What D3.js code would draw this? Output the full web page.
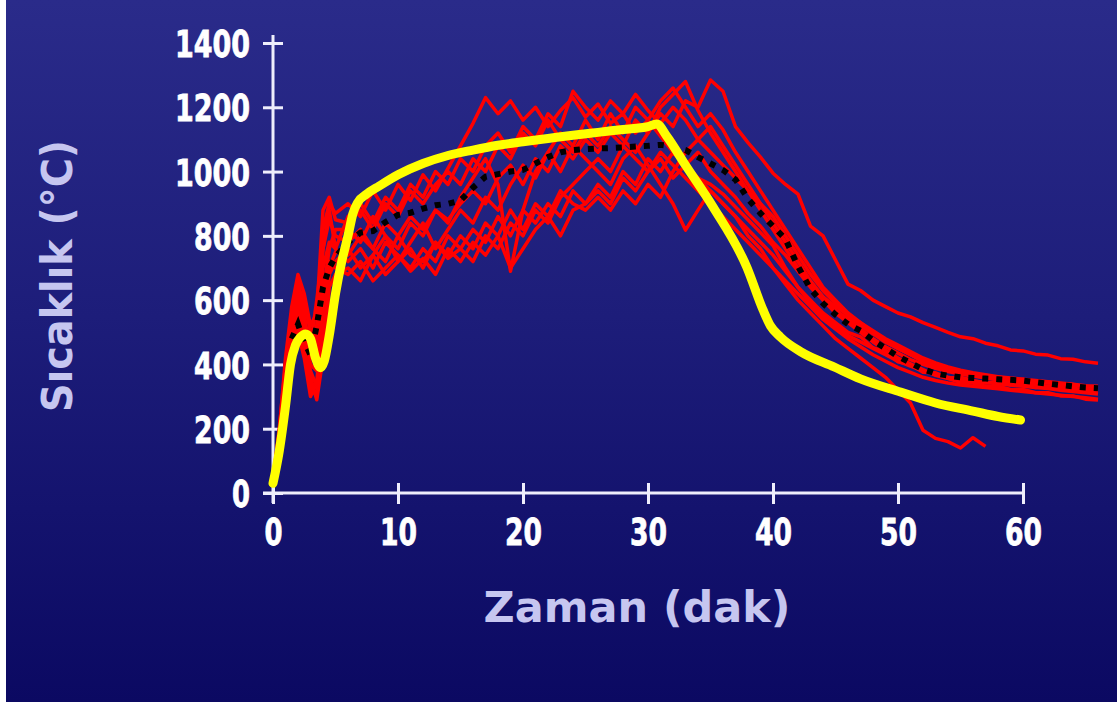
<!DOCTYPE html>
<html>
<head>
<meta charset="utf-8">
<script src="https://cdn.jsdelivr.net/npm/d3@7"></script>
<style>
  body { margin: 0; background: #fff; }
  svg { display: block; }
</style>
</head>
<body>
<svg id="fire-chart"></svg>
<script>
const xTicks = [0, 10, 20, 30, 40, 50, 60]
const yTicks = [0, 200, 400, 600, 800, 1000, 1200, 1400]

// measured runs share one time grid (minutes)
const redTime = [0, 0.5, 1, 1.5, 2, 2.5, 3, 3.5, 4, 4.5, 5,
  6, 7, 8, 9, 10, 11, 12, 13, 14, 15, 16, 17, 18, 19, 20, 21, 22, 23, 24, 25,
  26, 27, 28, 29, 30, 31, 32, 33, 34, 35, 36, 37, 38, 39, 40, 41, 42, 43, 44, 45,
  46, 47, 48, 49, 50, 51, 52, 53, 54, 55, 56, 57, 58, 59, 60, 61, 62, 63, 64, 65, 66]

const redRun1 = [20, 150, 330, 520, 660, 560, 420, 520, 820, 900, 870,
  900, 860, 940, 880, 960, 910, 990, 940, 1010, 1080,
  1150, 1230, 1180, 1220, 1160, 1200, 1140, 1190, 1230, 1170,
  1210, 1150, 1180, 1120, 1160, 1110, 1060, 1020, 980, 960,
  930, 890, 850, 810, 770, 700, 640, 600, 560, 530,
  500, 486, 452, 438, 408, 400, 376, 374, 358, 360,
  350, 342, 346, 336, 338, 328, 332, 322, 326, 316, 318]
const redRun2 = [30, 170, 360, 480, 600, 530, 460, 600, 760, 850, 800,
  780, 820, 760, 840, 800, 860, 820, 880, 850, 900,
  940, 900, 980, 1020, 960, 1040, 1000, 1080, 1040, 1100,
  1060, 1120, 1080, 1160, 1120, 1180, 1140, 1220, 1200, 1285,
  1250, 1140, 1090, 1045, 995, 960, 930, 830, 800, 725,
  650, 630, 600, 580, 560, 548, 530, 515, 500, 486,
  480, 466, 458, 445, 442, 432, 429, 418, 416, 408, 404]
const redRun3 = [40, 200, 400, 560, 640, 600, 500, 450, 700, 780, 760,
  720, 760, 700, 780, 740, 700, 760, 720, 800, 760,
  820, 780, 860, 800, 880, 840, 900, 860, 940, 900,
  960, 920, 1000, 960, 1040, 1000, 1060, 1020, 980, 940,
  900, 860, 800, 760, 700, 650, 600, 560, 520, 480,
  450, 420, 390, 360, 320, 280, 195, 170, 160, 140,
  172, 145, null, null, null, null, null, null, null, null, null]
const redRun4 = [25, 120, 280, 420, 520, 470, 380, 330, 560, 720, 700,
  680, 720, 660, 700, 740, 690, 730, 680, 760, 720,
  780, 740, 800, 700, 760, 820, 860, 800, 880, 900,
  940, 900, 980, 940, 1000, 1040, 980, 1020, 1060, 1000,
  960, 920, 870, 830, 780, 740, 690, 640, 600, 560,
  530, 500, 470, 444, 420, 402, 384, 366, 356, 344,
  342, 332, 332, 322, 322, 312, 312, 302, 302, 292, 289]
const redRun5 = [35, 180, 380, 500, 580, 500, 400, 380, 620, 760, 820,
  820, 780, 860, 800, 760, 840, 800, 880, 840, 920,
  980, 1040, 960, 690, 880, 1000, 1060, 1120, 1080, 1160,
  1100, 1180, 1120, 1200, 1160, 1220, 1260, 1200, 1140, 1180,
  1130, 1060, 1000, 940, 880, 820, 760, 700, 640, 600,
  560, 530, 500, 470, 450, 430, 410, 395, 385, 375,
  370, 362, 362, 352, 354, 344, 346, 336, 338, 330, 330]
const redRun6 = [20, 140, 300, 450, 540, 440, 330, 300, 480, 680, 720,
  760, 700, 740, 800, 720, 780, 840, 760, 820, 880,
  840, 920, 880, 960, 1020, 980, 1060, 1000, 1080, 1040,
  1000, 960, 1040, 1080, 1020, 960, 900, 818, 880, 940,
  900, 860, 820, 780, 740, 690, 640, 590, 550, 520,
  490, 470, 450, 430, 410, 395, 380, 370, 360, 352,
  348, 344, 340, 336, 332, 328, 325, 320, 316, 312, 308]
const redRun7 = [30, 160, 340, 470, 620, 520, 440, 500, 760, 880, 760,
  860, 900, 840, 920, 880, 960, 920, 1000, 960, 1040,
  1000, 1080, 1120, 1060, 1140, 1100, 1180, 1140, 1250, 1200,
  1160, 1220, 1180, 1240, 1190, 1150, 1200, 1160, 1100, 1060,
  1020, 980, 940, 900, 860, 800, 740, 680, 630, 590,
  550, 520, 495, 470, 450, 430, 410, 395, 382, 372,
  366, 360, 356, 352, 348, 345, 342, 338, 335, 332, 328]
const redRun8 = [25, 130, 290, 430, 560, 480, 360, 290, 420, 640, 680,
  700, 660, 740, 680, 720, 760, 700, 780, 740, 800,
  760, 840, 800, 880, 820, 900, 860, 940, 900, 880,
  920, 880, 940, 900, 960, 920, 1000, 1060, 1100, 1140,
  1080, 1020, 960, 900, 840, 780, 720, 660, 610, 570,
  540, 510, 480, 455, 435, 415, 400, 388, 378, 370,
  364, 358, 352, 346, 340, 336, 332, 328, 325, 322, 320]
const redRun9 = [40, 190, 420, 580, 680, 620, 520, 560, 880, 920, 850,
  840, 880, 820, 900, 860, 940, 900, 960, 1000, 960,
  1040, 1000, 1080, 1040, 1120, 1080, 1160, 1100, 1060, 1120,
  1080, 1140, 1100, 1060, 1120, 1200, 1240, 1280, 1190, 1120,
  1060, 1000, 940, 880, 820, 760, 700, 650, 610, 580,
  555, 530, 505, 480, 460, 440, 420, 405, 392, 382,
  374, 368, 362, 358, 354, 350, 346, 342, 338, 334, 332]
const redRun10 = [30, 150, 320, 460, 500, 420, 300, 340, 600, 700, 750,
  740, 800, 760, 720, 800, 740, 720, 780, 730, 760,
  720, 800, 760, 840, 800, 880, 840, 920, 960, 1000,
  1040, 1000, 1080, 1040, 1000, 1060, 1020, 980, 940, 900,
  860, 820, 780, 740, 700, 660, 620, 580, 540, 510,
  480, 455, 430, 410, 390, 375, 360, 350, 342, 336,
  332, 328, 324, 320, 316, 312, 308, 304, 300, 296, 292]

const meanTime = [1.5, 2, 2.5, 3, 3.5, 4, 4.5, 5,
  6, 7, 8, 9, 10, 11, 12, 13, 14, 15, 16, 17, 18, 19, 20, 21, 22, 23, 24, 25,
  26, 27, 28, 29, 30, 31, 32, 33, 34, 35, 36, 37, 38, 39, 40, 41, 42, 43, 44, 45,
  46, 47, 48, 49, 50, 51, 52, 53, 54, 55, 56, 57, 58, 59, 60, 61, 62, 63, 64, 65, 66]
const meanTemp = [480, 525, 470, 430, 520, 640, 700, 735,
  780, 810, 815, 843, 865, 872, 885, 895, 900, 910,
  950, 984, 992, 1000, 1005, 1025, 1045, 1060, 1067, 1070,
  1072, 1073, 1075, 1078, 1080, 1083, 1078, 1067, 1045, 1025,
  1005, 975, 915, 870, 830, 790, 705, 635, 590, 555,
  525, 505, 475, 450, 425, 405, 385, 372, 365, 360,
  358, 356, 354, 352, 350, 345, 340, 336, 332, 328, 326]

const modelTime = [0, 0.5, 1, 1.4, 1.8, 2.2, 2.6, 3, 3.4, 3.8, 4.1, 4.5, 5, 5.5, 6, 6.4, 6.8, 7.5, 8.5, 10,
  12, 14, 16, 18, 20, 22, 24, 26, 28, 30, 30.7, 31.5, 33, 35.2, 37.9, 39.2, 39.8, 40.6, 42.2, 44.9, 47,
  50.2, 53, 56, 58, 59.8]
const modelTemp = [30, 130, 270, 400, 460, 485, 495, 480, 420, 390, 410, 490, 620, 720, 800, 870, 905, 930, 955, 990,
  1025, 1050, 1067, 1082, 1093, 1103, 1113, 1122, 1131, 1140, 1148, 1110, 1020, 890, 703, 570, 520, 485, 440, 392, 355,
  314, 280, 255, 238, 227]

const xTitle = "Zaman (dak)"
const yTitle = "Sıcaklık (°C)"

const width = 1120
const height = 704

const svg = d3.select("#fire-chart")
    .attr("width", width)
    .attr("height", height)

const defs = svg.append("defs")
const grad = defs.append("linearGradient")
    .attr("id", "bg")
    .attr("x1", 0).attr("y1", 0).attr("x2", 0).attr("y2", 1)
grad.append("stop").attr("offset", "0%").attr("stop-color", "#2a2b8a")
grad.append("stop").attr("offset", "45%").attr("stop-color", "#1d1d7a")
grad.append("stop").attr("offset", "100%").attr("stop-color", "#0b0962")

svg.append("rect")
    .attr("x", 6).attr("y", 0)
    .attr("width", 1111).attr("height", 702)
    .attr("fill", "url(#bg)")

const x = d3.scaleLinear().domain([0, 60]).range([273, 1023])
const y = d3.scaleLinear().domain([0, 1400]).range([493, 43])

const axisColor = "#eeeefc"
const tickFont = "'Liberation Sans Narrow', 'DejaVu Sans Condensed', 'Liberation Sans', sans-serif"

const yAxis = svg.append("g")
    .attr("transform", "translate(" + x(0) + ",0)")
    .call(d3.axisLeft(y).tickValues(yTicks).tickFormat(d3.format("d")).tickSize(10).tickPadding(13))
const xAxis = svg.append("g")
    .attr("transform", "translate(0," + y(0) + ")")
    .call(d3.axisBottom(x).tickValues(xTicks).tickFormat(d3.format("d")).tickSize(11).tickPadding(14))

yAxis.select(".domain").remove()
xAxis.select(".domain").remove()
yAxis.append("line")
    .attr("x1", 0).attr("x2", 0)
    .attr("y1", y(1400) - 8).attr("y2", y(0) + 10)
xAxis.append("line")
    .attr("x1", x(0) - 10).attr("x2", x(60) + 2)
    .attr("y1", 0).attr("y2", 0)

yAxis.selectAll(".tick line").attr("x1", -10).attr("x2", 10)
xAxis.selectAll(".tick line").attr("y1", -10).attr("y2", 11)

svg.selectAll("g line")
    .attr("stroke", axisColor)
    .attr("stroke-width", 3)

svg.selectAll(".tick text")
    .attr("fill", "#ffffff")
    .attr("font-family", tickFont)
    .attr("font-weight", "bold")
    .attr("font-size", 38)
    .attr("stroke", "#ffffff")
    .attr("stroke-width", 0.8)
    .attr("textLength", function() { return this.textContent.length * 19 - 1 })
    .attr("lengthAdjust", "spacingAndGlyphs")
yAxis.selectAll(".tick text").attr("x", -23).attr("dy", "0.36em")
xAxis.selectAll(".tick text").attr("y", 52).attr("dy", 0)

const line = d3.line()
    .defined(d => d[1] != null)
    .x(d => x(d[0]))
    .y(d => y(d[1]))

const redRuns = [redRun1, redRun2, redRun3, redRun4, redRun5, redRun6, redRun7, redRun8, redRun9, redRun10]

svg.append("g").selectAll("path")
    .data(redRuns)
    .enter()
    .append("path")
    .attr("d", run => line(run.map((v, i) => [redTime[i], v])))
    .attr("fill", "none")
    .attr("stroke", "#ff0000")
    .attr("stroke-width", 3.5)
    .attr("stroke-linejoin", "round")

svg.append("path")
    .attr("d", line(meanTemp.map((v, i) => [meanTime[i], v])))
    .attr("fill", "none")
    .attr("stroke", "#000000")
    .attr("stroke-width", 6)
    .attr("stroke-dasharray", "6,8")

svg.append("path")
    .attr("d", d3.line().curve(d3.curveMonotoneX).x(d => x(d[0])).y(d => y(d[1]))(modelTemp.map((v, i) => [modelTime[i], v])))
    .attr("fill", "none")
    .attr("stroke", "#ffff00")
    .attr("stroke-width", 9)
    .attr("stroke-linecap", "round")
    .attr("stroke-linejoin", "round")

const titleFont = "'DejaVu Sans', Verdana, sans-serif"

svg.append("text")
    .attr("x", 637)
    .attr("y", 622)
    .attr("text-anchor", "middle")
    .attr("font-family", titleFont)
    .attr("font-weight", "bold")
    .attr("font-size", 43)
    .attr("fill", "#c6c6f0")
    .attr("textLength", 307)
    .attr("lengthAdjust", "spacingAndGlyphs")
    .text(xTitle)

svg.append("text")
    .attr("transform", "translate(72,276) rotate(-90)")
    .attr("text-anchor", "middle")
    .attr("font-family", titleFont)
    .attr("font-weight", "bold")
    .attr("font-size", 43)
    .attr("fill", "#c6c6f0")
    .attr("textLength", 272)
    .attr("lengthAdjust", "spacingAndGlyphs")
    .text(yTitle)
</script>
</body>
</html>
